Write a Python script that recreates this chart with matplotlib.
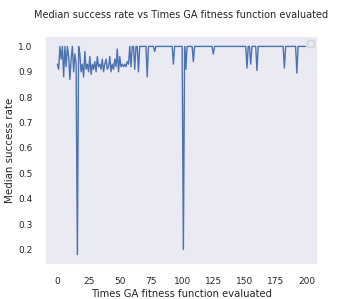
import matplotlib
matplotlib.use("Agg")
import matplotlib.pyplot as plt
import seaborn as sns
import numpy as np

sns.set_theme(style="dark")
plt.rcParams['font.family'] = ['DejaVu Sans']

# Median success rate for evaluations 0..199
early = [0.93, 0.91, 1.0, 0.95, 1.0, 0.88, 1.0, 0.92, 1.0, 0.96,
         0.87, 0.95, 1.0, 0.90, 0.97, 0.93, 0.18, 1.0, 0.97, 0.90,
         0.93, 0.88, 0.98, 0.91, 0.93, 0.90, 0.96, 0.89, 0.93, 0.91,
         0.94, 0.90, 0.96, 0.92, 0.93, 0.91, 0.95, 0.90, 0.93, 0.95,
         0.91, 0.92, 0.96, 0.90, 0.93, 0.91, 0.95, 0.92, 0.99, 0.90,
         0.96, 0.92, 0.93, 0.92, 0.93, 0.92, 0.94, 0.93, 1.0, 0.92,
         1.0, 1.0, 0.91, 1.0, 1.0, 0.90, 1.0, 1.0, 1.0, 1.0,
         1.0, 1.0, 0.88, 1.0, 1.0, 1.0, 1.0, 1.0, 0.98, 1.0]
late_dips = {93: 0.93, 101: 0.20, 103: 0.91, 109: 0.94, 125: 0.97,
             152: 0.915, 155: 0.93, 160: 0.905, 182: 0.915, 192: 0.895}
late = [late_dips.get(i, 1.0) for i in range(80, 200)]
success = early + late
evals = list(range(len(success)))

fig = plt.figure(figsize=(3.54, 2.99), dpi=100)
ax = fig.add_axes([45/354, 1 - 265/299, (318-45)/354, (265-36)/299])
ax.plot(evals, success, color="#4c72b0", linewidth=1.0)
ax.set_title("Median success rate vs Times GA fitness function evaluated",
             fontsize=7.0, color="#262626", pad=13)
ax.set_xlabel("Times GA fitness function evaluated", fontsize=7.2, labelpad=2)
ax.set_ylabel("Median success rate", fontsize=7.4)
ax.yaxis.set_label_coords(-0.11, 0.5)
ax.set_xticks([0, 25, 50, 75, 100, 125, 150, 175, 200])
ax.set_yticks([0.2, 0.3, 0.4, 0.5, 0.6, 0.7, 0.8, 0.9, 1.0])
ax.tick_params(labelsize=6.5, pad=3)
ax.legend(handles=[], loc="upper right", fontsize=6)
fig.savefig("out.png", dpi=100)
